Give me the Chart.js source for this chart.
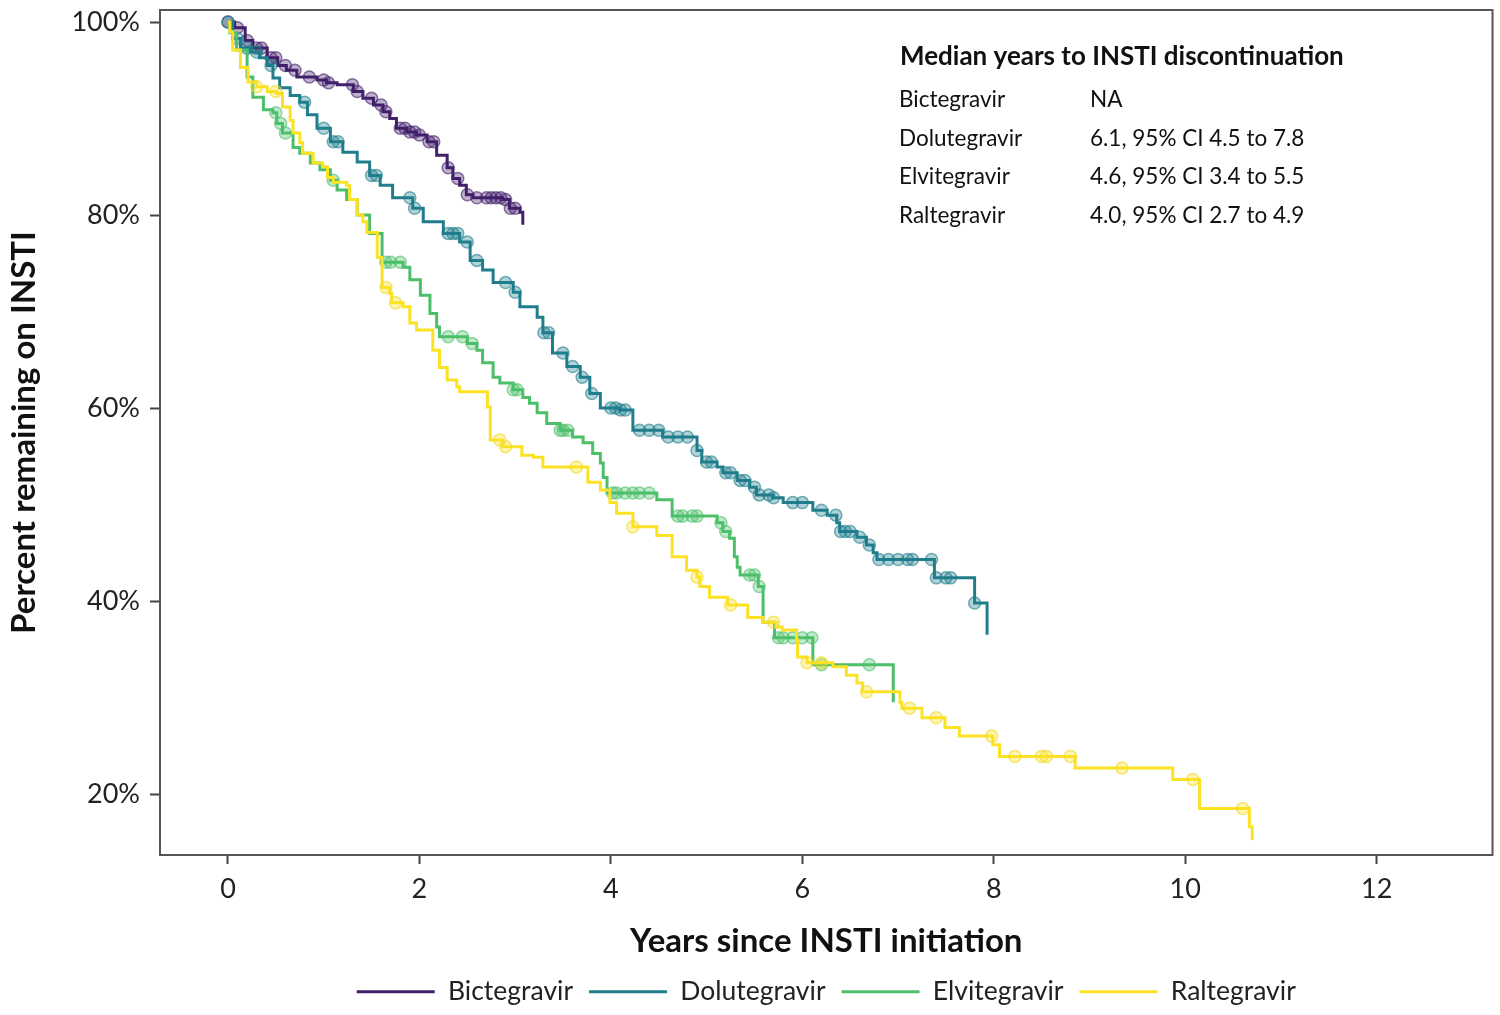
<!DOCTYPE html>
<html>
<head>
<meta charset="utf-8">
<script src="https://cdn.jsdelivr.net/npm/chart.js@4.4.1/dist/chart.umd.min.js"></script>
<style>
  html, body { margin: 0; padding: 0; background: #fff; }
  #wrap { width: 1500px; height: 1015px; }
</style>
</head>
<body>
<div id="wrap"><canvas id="kmChart" width="1500" height="1015"></canvas></div>
<script>
// series
const seriesNames = ["Bictegravir", "Dolutegravir", "Elvitegravir", "Raltegravir"];
const seriesColors = ["#43206b", "#1f7d8c", "#4dbf6a", "#fbe225"];
const censorFill = ["rgba(67,32,107,0.35)", "rgba(31,125,140,0.35)", "rgba(77,191,106,0.35)", "rgba(251,226,37,0.35)"];
const censorEdge = ["rgba(67,32,107,0.6)", "rgba(31,125,140,0.6)", "rgba(77,191,106,0.6)", "rgba(240,215,30,0.6)"];

// event times (years) and % remaining after each event
const bicTimes = [0, .07, .18, .26, .41, .52, .61, .72, .93, 1.03, 1.14, 1.31, 1.41, 1.52, 1.62, 1.69, 1.76, 1.87, 1.97, 2.08, 2.18, 2.29, 2.35, 2.42, 2.49, 2.56, 2.87, 2.94, 3.05, 3.08];
const bicSurv = [100, 99.4, 98.1, 97.3, 96.3, 95.5, 95.0, 94.3, 94.0, 93.7, 93.5, 92.8, 92.1, 91.4, 90.7, 90.0, 89.0, 88.6, 88.3, 87.6, 86.2, 84.9, 83.8, 83.1, 82.1, 81.8, 81.6, 80.7, 80.3, 79.0];
const bicCensor = [0, 0.1, 0.2, 0.3, 0.35, 0.45, 0.5, 0.6, 0.7, 0.85, 1.0, 1.05, 1.3, 1.35, 1.5, 1.6, 1.65, 1.8, 1.85, 1.9, 1.95, 2.0, 2.1, 2.15, 2.3, 2.4, 2.5, 2.6, 2.7, 2.75, 2.8, 2.85, 2.9, 2.95, 3.0];

const doluTimes = [0, .05, .13, .23, .33, .41, .47, .54, .65, .75, .83, .93, 1.07, 1.20, 1.35, 1.48, 1.59, 1.72, 1.93, 2.04, 2.25, 2.42, 2.53, 2.66, 2.77, 2.98, 3.05, 3.23, 3.29, 3.39, 3.54, 3.68, 3.78, 3.89, 4.09, 4.23, 4.54, 4.90, 4.95, 5.11, 5.17, 5.32, 5.45, 5.52, 5.69, 5.80, 6.11, 6.26, 6.36, 6.39, 6.57, 6.67, 6.74, 6.78, 7.38, 7.80, 7.93];
const doluSurv = [100, 98.3, 97.3, 96.9, 96.3, 95.5, 94.2, 93.2, 92.4, 91.7, 90.4, 89.0, 87.6, 86.5, 85.5, 84.1, 83.1, 81.8, 80.7, 79.3, 78.1, 77.2, 75.3, 74.3, 73.0, 72.0, 70.5, 69.4, 67.8, 65.7, 64.3, 63.2, 61.5, 60.0, 59.8, 57.7, 57.0, 55.6, 54.4, 53.9, 53.3, 52.5, 51.8, 51.0, 50.7, 50.2, 49.4, 48.9, 48.1, 47.2, 46.6, 45.8, 45.0, 44.3, 42.4, 39.8, 36.5];
const doluCensor = [0, 0.1, 0.2, 0.3, 0.45, 0.8, 1.0, 1.1, 1.15, 1.5, 1.55, 1.9, 1.95, 2.3, 2.35, 2.4, 2.5, 2.6, 2.9, 3.0, 3.3, 3.35, 3.5, 3.6, 3.7, 3.8, 4.0, 4.05, 4.1, 4.15, 4.3, 4.4, 4.5, 4.6, 4.7, 4.8, 4.9, 5.0, 5.05, 5.2, 5.25, 5.35, 5.4, 5.5, 5.55, 5.65, 5.7, 5.9, 6.0, 6.2, 6.35, 6.4, 6.45, 6.5, 6.6, 6.7, 6.8, 6.9, 7.0, 7.1, 7.15, 7.35, 7.4, 7.5, 7.55, 7.8];

const elviTimes = [0, .02, .09, .20, .26, .37, .47, .51, .57, .68, .75, .86, .96, 1.07, 1.14, 1.24, 1.35, 1.48, 1.61, 1.83, 1.90, 2.01, 2.11, 2.18, 2.21, 2.50, 2.60, 2.66, 2.77, 2.84, 2.98, 3.08, 3.15, 3.23, 3.33, 3.47, 3.60, 3.71, 3.81, 3.89, 3.92, 3.96, 4.48, 4.64, 5.11, 5.17, 5.24, 5.29, 5.32, 5.35, 5.54, 5.59, 5.71, 6.11, 6.95];
const elviSurv = [100, 98.9, 97.1, 94.3, 92.2, 90.9, 90.6, 89.5, 88.5, 87.0, 86.4, 85.4, 84.7, 83.6, 82.6, 81.6, 80.0, 78.1, 75.1, 74.6, 73.3, 71.7, 69.8, 68.4, 67.4, 66.7, 66.0, 64.7, 63.2, 62.6, 61.9, 61.1, 60.5, 59.5, 58.4, 57.7, 57.0, 56.4, 55.3, 54.3, 52.8, 51.2, 50.5, 48.8, 48.1, 47.2, 46.5, 44.6, 43.5, 42.7, 41.5, 37.8, 36.2, 33.4, 29.5];
const elviCensor = [0.5, 0.55, 0.6, 1.1, 1.65, 1.7, 1.8, 2.3, 2.45, 2.55, 2.98, 3.02, 3.47, 3.5, 3.55, 4.02, 4.06, 4.15, 4.23, 4.3, 4.4, 4.7, 4.75, 4.85, 4.9, 5.15, 5.2, 5.45, 5.5, 5.55, 5.75, 5.8, 5.9, 6.0, 6.1, 6.2, 6.7];

const ralTimes = [0, .02, .05, .13, .21, .30, .41, .51, .57, .65, .68, .75, .78, .89, .99, 1.04, 1.10, 1.24, 1.27, 1.35, 1.41, 1.45, 1.56, 1.61, 1.69, 1.71, 1.83, 1.90, 1.97, 2.14, 2.21, 2.29, 2.39, 2.42, 2.71, 2.74, 2.87, 3.07, 3.19, 3.29, 3.76, 3.89, 3.99, 4.06, 4.23, 4.48, 4.64, 4.79, 4.90, 4.93, 5.03, 5.22, 5.43, 5.59, 5.73, 5.79, 5.94, 5.95, 6.05, 6.32, 6.46, 6.57, 6.63, 7.02, 7.04, 7.25, 7.49, 7.64, 7.99, 8.06, 8.85, 9.87, 10.15, 10.67, 10.70];
const ralSurv = [100, 99.0, 97.1, 95.3, 93.8, 93.3, 92.8, 92.6, 91.2, 89.8, 88.5, 87.5, 86.4, 85.4, 85.0, 83.9, 83.4, 83.1, 81.6, 80.0, 79.3, 78.2, 75.6, 72.5, 71.9, 70.9, 70.5, 68.8, 68.1, 66.0, 64.2, 62.9, 62.2, 61.7, 60.1, 56.7, 56.0, 55.1, 54.9, 53.9, 52.3, 51.5, 50.2, 49.1, 47.7, 46.8, 44.6, 43.2, 42.5, 41.5, 40.4, 39.6, 38.3, 37.8, 37.3, 37.0, 36.0, 34.2, 33.6, 33.2, 32.3, 31.5, 30.6, 29.5, 28.9, 27.9, 26.9, 26.0, 25.1, 23.9, 22.7, 21.5, 18.5, 16.6, 15.2];
const ralCensor = [0.3, 0.5, 1.65, 1.75, 2.84, 2.9, 3.64, 4.23, 4.9, 5.25, 5.7, 6.05, 6.2, 6.67, 7.12, 7.4, 7.98, 8.22, 8.5, 8.55, 8.8, 9.34, 10.08, 10.6];

// axis ticks
const xTicks = [0, 2, 4, 6, 8, 10, 12];
const yTicks = [20, 40, 60, 80, 100];

// median table
const medianTitle = "Median years to INSTI discontinuation";
const medianValues = ["NA", "6.1, 95% CI 4.5 to 7.8", "4.6, 95% CI 3.4 to 5.5", "4.0, 95% CI 2.7 to 4.9"];

const allTimes = [bicTimes, doluTimes, elviTimes, ralTimes];
const allSurv = [bicSurv, doluSurv, elviSurv, ralSurv];
const allCensor = [bicCensor, doluCensor, elviCensor, ralCensor];

// value of the step curve at time t
function survAt(times, surv, t) {
  let v = surv[0];
  for (let i = 0; i < times.length; i++) {
    if (times[i] <= t) v = surv[i]; else break;
  }
  return v;
}

const datasets = [];
seriesNames.forEach((name, i) => {
  datasets.push({
    label: name,
    data: allTimes[i].map((t, k) => ({ x: t, y: allSurv[i][k] })),
    borderColor: seriesColors[i],
    backgroundColor: seriesColors[i],
    borderWidth: 3,
    stepped: "before",
    pointRadius: 0,
    pointStyle: "line",
    fill: false,
    order: 8 - i * 2
  });
});
seriesNames.forEach((name, i) => {
  datasets.push({
    label: name + " censored",
    data: allCensor[i].map(t => ({ x: t, y: survAt(allTimes[i], allSurv[i], t) })),
    showLine: false,
    pointRadius: 6,
    pointStyle: "circle",
    pointBackgroundColor: censorFill[i],
    pointBorderColor: censorEdge[i],
    pointBorderWidth: 1.5,
    order: 7 - i * 2
  });
});

const framePlugin = {
  id: "frame",
  afterLayout(chart) {
    // center the legend under the plot box, not the whole canvas
    const lg = chart.legend;
    if (lg) {
      lg.left = chart.chartArea.left;
      lg.right = chart.chartArea.right;
    }
  },
  beforeDatasetsDraw(chart) {
    const { ctx, chartArea: a } = chart;
    ctx.save();
    ctx.strokeStyle = "#555";
    ctx.lineWidth = 2;
    ctx.strokeRect(a.left, a.top, a.right - a.left, a.bottom - a.top);
    ctx.restore();
  },
  afterDraw(chart) {
    const ctx = chart.ctx;
    ctx.save();
    ctx.fillStyle = "#111";
    ctx.textBaseline = "middle";
    ctx.font = "bold 26px Lato";
    ctx.fillText(medianTitle, 900, 57);
    ctx.font = "22.5px Lato";
    const rowY = [100, 139, 177, 216];
    seriesNames.forEach((n, i) => {
      ctx.fillText(n, 899, rowY[i]);
      ctx.fillText(medianValues[i], 1090, rowY[i]);
    });
    ctx.restore();
  }
};

const ctx = document.getElementById("kmChart").getContext("2d");
const kmChart = new Chart(ctx, {
  type: "line",
  data: { datasets: datasets },
  options: {
    responsive: false,
    animation: false,
    layout: { padding: { top: 10, right: 7, left: 0, bottom: 0 } },
    plugins: {
      tooltip: { enabled: false },
      legend: {
        position: "bottom",
        labels: {
          filter: item => item.datasetIndex < 4,
          sort: (a, b) => a.datasetIndex - b.datasetIndex,
          usePointStyle: true,
          pointStyleWidth: 78,
          font: { family: "Lato", size: 26.5 },
          color: "#222",
          padding: 16
        }
      }
    },
    scales: {
      x: {
        type: "linear",
        min: -0.71,
        max: 13.21,
        afterBuildTicks: s => { s.ticks = xTicks.map(v => ({ value: v })); },
        afterFit: s => { s.height = 160 - s.chart.legend.height; s.paddingLeft = 0; s.paddingRight = 0; },
        ticks: { font: { family: "Lato", size: 27 }, color: "#222", padding: 9 },
        grid: { drawOnChartArea: false, drawTicks: true, tickLength: 9, tickWidth: 2, color: "#444" },
        border: { display: true, color: "#555", width: 2 },
        title: { display: true, text: "Years since INSTI initiation", color: "#111",
                 font: { family: "Lato", size: 33, weight: "bold" }, padding: { top: 0, bottom: 1 } }
      },
      y: {
        type: "linear",
        min: 13.68,
        max: 101.25,
        afterBuildTicks: s => { s.ticks = yTicks.map(v => ({ value: v })); },
        afterFit: s => { s.width = 160; s.paddingTop = 0; s.paddingBottom = 0; },
        ticks: { font: { family: "Lato", size: 27 }, color: "#222", padding: 10, callback: v => v + "%" },
        grid: { drawOnChartArea: false, drawTicks: true, tickLength: 10, tickWidth: 2, color: "#444" },
        border: { display: true, color: "#555", width: 2 },
        title: { display: true, text: "Percent remaining on INSTI", color: "#111",
                 font: { family: "Lato", size: 33, weight: "bold" }, padding: { top: 5, bottom: 0 } }
      }
    }
  },
  plugins: [framePlugin]
});
</script>
</body>
</html>
